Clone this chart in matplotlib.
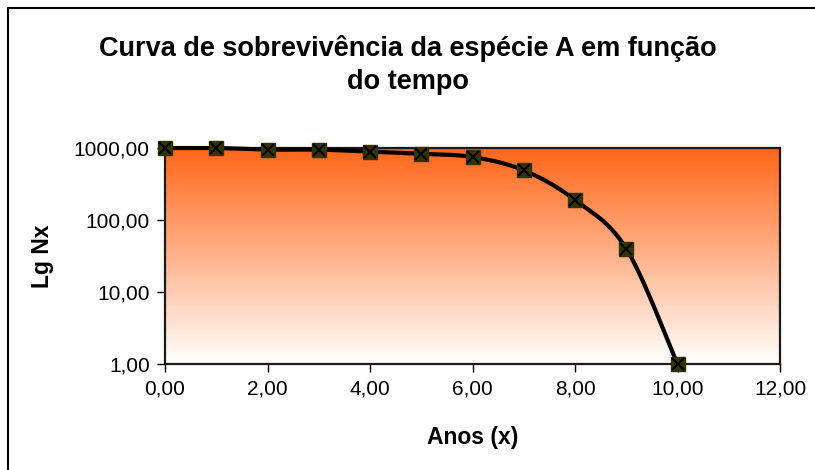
import numpy as np
import matplotlib
matplotlib.use("Agg")
import matplotlib.pyplot as plt
from matplotlib.colors import LinearSegmentedColormap
from matplotlib.ticker import FuncFormatter, FixedLocator
from matplotlib.lines import Line2D

plt.rcParams['font.family'] = ['Liberation Sans', 'DejaVu Sans']

# Survival data
anos = [0, 1, 2, 3, 4, 5, 6, 7, 8, 9, 10]
nx = [1000, 1000, 950, 950, 890, 830, 750, 490, 190, 40, 1]

titulo = "Curva de sobrevivência da espécie A em função\ndo tempo"
xlabel = "Anos (x)"
ylabel = "Lg Nx"
xticks = [0, 2, 4, 6, 8, 10, 12]
yticks = [1, 10, 100, 1000]


def smooth_curve(xs, ys, n=30):
    """Catmull-Rom smoothing of (x, log10 y) points, like a spreadsheet 'smoothed line'."""
    px = np.asarray(xs, float)
    py = np.log10(np.asarray(ys, float))
    P = np.column_stack([px, py])
    P = np.vstack([P[0], P, P[-1]])
    out = []
    for i in range(1, len(P) - 2):
        p0, p1, p2, p3 = P[i - 1], P[i], P[i + 1], P[i + 2]
        c1 = p1 + (p2 - p0) / 6.0
        c2 = p2 - (p3 - p1) / 6.0
        t = np.linspace(0, 1, n)[:, None]
        seg = ((1 - t) ** 3) * p1 + 3 * ((1 - t) ** 2) * t * c1 + 3 * (1 - t) * t ** 2 * c2 + t ** 3 * p2
        out.append(seg if i == 1 else seg[1:])
    seg = np.vstack(out)
    return seg[:, 0], 10 ** seg[:, 1]


fig = plt.figure(figsize=(8.15, 4.70), dpi=100)
ax = fig.add_axes([165 / 815, 1 - 364 / 470, 615 / 815, 216 / 470])

ax.set_yscale('log')
ax.set_xlim(0, 12)
ax.set_ylim(1, 1000)

# Orange-to-white gradient background of the plot area
cmap = LinearSegmentedColormap.from_list('bg', ['#FFFFFF', '#FF6619'])
grad = np.linspace(0, 1, 256)[:, None]
ax.imshow(grad, cmap=cmap, aspect='auto', origin='lower',
          extent=[0, 1, 0, 1], transform=ax.transAxes, zorder=0)

sx, sy = smooth_curve(anos, nx)
ax.plot(sx, sy, color='black', lw=3.0, solid_capstyle='round', zorder=3, clip_on=False)
ax.plot(anos, nx, ls='none', marker='s', ms=10.5, mfc='#333300', mec='#333300',
        zorder=4, clip_on=False)
ax.plot(anos, nx, ls='none', marker='x', ms=8, mew=1.5, color='black',
        zorder=5, clip_on=False)

ax.xaxis.set_major_locator(FixedLocator(xticks))
ax.yaxis.set_major_locator(FixedLocator(yticks))
ax.yaxis.set_minor_locator(FixedLocator([]))
fmt = FuncFormatter(lambda v, p: f"{v:.2f}".replace('.', ','))
ax.xaxis.set_major_formatter(fmt)
ax.yaxis.set_major_formatter(fmt)
ax.tick_params(axis='both', which='major', direction='out', length=6, width=1,
               labelsize=15, color='black', pad=5)

for s in ax.spines.values():
    s.set_color('#1a1a1a')
    s.set_linewidth(1.6)

ax.set_xlabel(xlabel, fontsize=16.5, fontweight='bold', labelpad=20)
ax.set_ylabel(ylabel, fontsize=16.5, fontweight='bold', labelpad=14)

fig.text(0.5, 1 - 65 / 470, titulo, ha='center', va='center', fontsize=19.5,
         fontweight='bold', linespacing=1.38)

# Outer chart frame (left and top edges)
fig.add_artist(Line2D([8 / 815, 8 / 815], [0, 1 - 8 / 470], color='black', lw=1.5,
                      transform=fig.transFigure))
fig.add_artist(Line2D([8 / 815, 1], [1 - 8 / 470, 1 - 8 / 470], color='black', lw=1.5,
                      transform=fig.transFigure))

fig.savefig('out.png', dpi=100)
